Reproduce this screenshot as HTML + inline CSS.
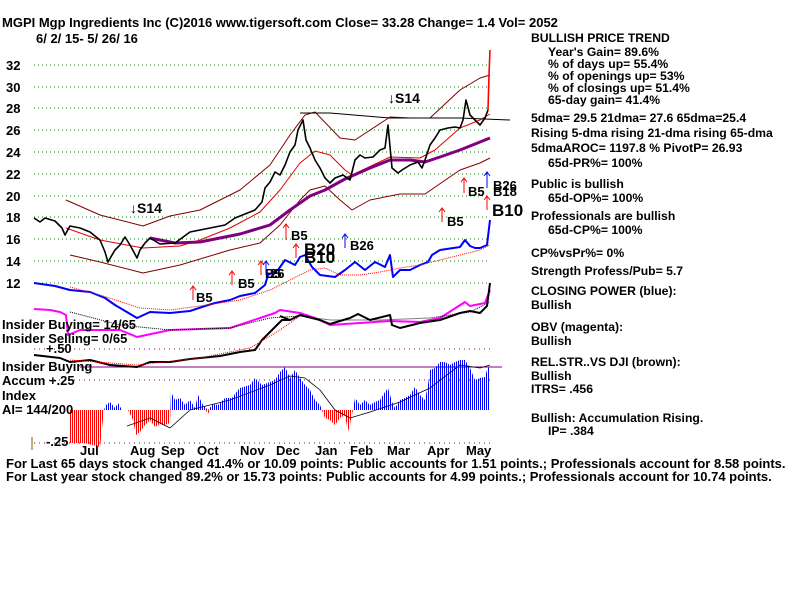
<!DOCTYPE html>
<html><head><meta charset="utf-8"><style>
body{margin:0;background:#fff;}
svg{display:block;font-family:"Liberation Sans",Arial,sans-serif;font-weight:bold;font-size:11.5px;}
</style></head><body>
<svg width="800" height="600" viewBox="0 0 800 600" xmlns="http://www.w3.org/2000/svg">
<defs>
<pattern id="pb" width="2" height="10" patternUnits="userSpaceOnUse"><rect x="0" y="0" width="1" height="10" fill="#0000ff"/></pattern>
<pattern id="pr" width="2" height="10" patternUnits="userSpaceOnUse"><rect x="0" y="0" width="1" height="10" fill="#ff0000"/></pattern>
<clipPath id="cu"><rect x="0" y="0" width="800" height="410"/></clipPath>
<clipPath id="cd"><rect x="0" y="410" width="800" height="100"/></clipPath>
</defs>
<rect width="800" height="600" fill="#fff"/>
<text x="2" y="27" font-size="13">MGPI   Mgp Ingredients Inc   (C)2016 www.tigersoft.com     Close=   33.28   Change= 1.4  Vol= 2052</text>
<text x="36" y="43" font-size="13">6/ 2/ 15- 5/ 26/ 16</text>
<g stroke="#008000" stroke-dasharray="1,3" stroke-width="1">
<line x1="34" y1="65" x2="490" y2="65"/><line x1="34" y1="87" x2="490" y2="87"/><line x1="34" y1="108" x2="490" y2="108"/><line x1="34" y1="130" x2="490" y2="130"/><line x1="34" y1="152" x2="490" y2="152"/><line x1="34" y1="174" x2="490" y2="174"/><line x1="34" y1="196" x2="490" y2="196"/><line x1="34" y1="217" x2="490" y2="217"/><line x1="34" y1="239" x2="490" y2="239"/><line x1="34" y1="261" x2="490" y2="261"/><line x1="34" y1="283" x2="490" y2="283"/>
</g>
<g font-size="13"><text x="6" y="70">32</text><text x="6" y="92">30</text><text x="6" y="113">28</text><text x="6" y="135">26</text><text x="6" y="157">24</text><text x="6" y="179">22</text><text x="6" y="201">20</text><text x="6" y="222">18</text><text x="6" y="244">16</text><text x="6" y="266">14</text><text x="6" y="288">12</text></g>
<g stroke="#800080" stroke-dasharray="1,4"><line x1="34" y1="349" x2="490" y2="349"/><line x1="34" y1="380" x2="490" y2="380"/><line x1="34" y1="443" x2="490" y2="443"/></g>
<line x1="80" y1="367" x2="502" y2="367" stroke="#800080"/>
<g id="ai">
<polygon clip-path="url(#cu)" fill="url(#pb)" points="70,410 70,443 85,443 100,447 104,410 106,405 110,402 115,408 118,403 122,410 128,410 133,420 136,435 140,432 145,425 150,420 155,427 160,424 165,425 170,423 171,392 175,400 180,398 185,405 190,400 195,408 198,395 203,405 208,410 213,404 218,405 225,398 232,398 238,390 240,388 250,385 255,378 262,385 270,382 275,380 280,372 285,367 290,378 295,370 300,378 305,385 310,390 315,400 320,405 325,418 330,420 335,425 340,418 345,415 348,432 352,415 355,398 360,405 365,400 370,405 375,402 380,400 385,392 388,388 392,402 395,408 400,400 405,398 410,395 415,387 420,395 425,400 428,385 430,370 435,368 440,362 445,362 450,365 455,362 460,360 465,360 470,368 475,380 480,378 485,377 487,370 490,365 490,410"/>
<polygon clip-path="url(#cd)" fill="url(#pr)" points="70,410 70,443 85,443 100,447 104,410 106,405 110,402 115,408 118,403 122,410 128,410 133,420 136,435 140,432 145,425 150,420 155,427 160,424 165,425 170,423 171,392 175,400 180,398 185,405 190,400 195,408 198,395 203,405 208,414 213,404 218,405 225,398 232,398 238,390 240,388 250,385 255,378 262,385 270,382 275,380 280,372 285,367 290,378 295,370 300,378 305,385 310,390 315,400 320,405 325,418 330,420 335,425 340,418 345,415 348,432 352,415 355,398 360,405 365,400 370,405 375,402 380,400 385,392 388,388 392,402 395,408 400,400 405,398 410,395 415,387 420,395 425,400 428,385 430,370 435,368 440,362 445,362 450,365 455,362 460,360 465,360 470,368 475,380 480,378 485,377 487,370 490,365 490,410"/>
</g>
<g fill="none" stroke-linejoin="round">
<polyline stroke="#800000" points="66,200 100,215 143,226 170,216 200,210 240,190 270,165 290,135 305,115 315,112 340,138 355,140 390,117 410,118 430,118 460,90 480,78 490,75"/>
<polyline stroke="#800000" points="70,255 100,262 143,273 180,265 230,250 260,243 280,225 300,200 310,190 325,186 340,200 352,210 370,200 400,194 425,194 460,170 480,163 490,158"/>
<polyline stroke="#e00000" points="66,228 100,240 143,248 180,246 200,240 230,228 260,212 280,190 300,163 315,151 330,155 345,170 352,175 390,157 420,158 435,150 460,128 480,120 490,114"/>
<polyline stroke="#800080" stroke-width="3" points="150,238 175,243 200,242 240,234 270,225 290,210 310,196 325,190 345,179 370,168 390,160 410,160 425,162 440,157 460,150 480,142 490,138"/>
<polyline stroke="#000" points="300,113 330,113 390,118 460,118 510,120"/>
<polyline stroke="#000" stroke-width="1.6" points="34,218 40,222 45,218 55,221 62,228 65,235 70,226 80,228 90,232 100,240 105,252 108,262 112,255 115,250 120,245 125,237 130,245 137,258 140,250 145,243 150,238 160,244 175,243 190,232 200,230 210,228 225,225 235,218 245,214 255,210 262,202 265,188 270,182 275,172 280,175 285,165 290,152 295,145 298,130 303,120 306,140 310,148 315,160 320,168 325,178 330,183 335,178 343,175 350,180 355,160 360,155 365,158 373,157 380,150 385,148 388,125 392,168 398,173 402,170 410,165 418,162 422,168 425,160 430,145 435,138 440,130 448,128 455,127 460,128 463,120 466,100 470,115 475,120 480,125 485,118 488,110"/>
<polyline stroke="#ff0000" stroke-width="1.6" points="488,110 489,75 490,50"/>
<polyline stroke="#0000ff" stroke-width="2" points="34,283 55,286 70,290 90,292 105,298 115,305 137,318 150,312 170,313 190,311 205,306 215,303 230,300 240,296 255,293 265,285 268,275 278,270 285,260 295,265 300,257 305,255 312,267 320,275 335,277 345,270 355,262 365,270 375,262 385,267 390,255 393,277 400,270 410,270 420,265 428,262 432,255 440,250 460,247 465,240 470,246 475,248 480,248 487,245 490,220"/>
<polyline stroke="#ff0000" stroke-dasharray="1,1" points="70,287 100,295 140,308 170,310 200,306 240,300 270,290 290,280 310,270 325,268 340,275 360,275 380,272 400,268 420,265 440,260 460,255 480,250 490,245"/>
<polyline stroke="#ff00ff" stroke-width="2" points="34,309 50,310 60,312 66,315 68,335 80,330 120,330 137,337 170,330 230,328 260,318 275,313 280,310 300,313 315,318 330,325 360,323 390,321 420,322 440,318 465,302 470,306 485,303 490,290"/>
<polyline stroke="#000" stroke-width="2" points="280,316 290,320 300,315 320,320 330,324 350,318 358,314 370,320 390,315 392,325 400,328 420,323 440,320 460,313 470,311 480,313 487,306 490,283"/>
<polyline stroke="#000" stroke-dasharray="1,1" points="70,312 120,325 170,330 230,328 270,318 300,316 330,320 380,320 430,318 470,312 490,302"/>
<polyline stroke="#000" stroke-width="2" points="34,355 60,358 70,362 90,360 110,365 137,367 150,362 170,362 190,359 220,356 240,352 255,350 262,340 270,332 282,320 290,320"/>
<polyline stroke="#ff0000" stroke-dasharray="1,1" points="70,360 137,365 200,358 250,348 280,330 300,316"/>
<polyline stroke="#000" stroke-width="0.8" points="127,426 150,418 170,428 190,410 230,400 270,385 290,376 305,378 320,390 335,410 350,418 370,412 400,402 430,388 460,365 480,368 490,365"/>
</g>
<g fill="#000" font-size="14">
<text x="130" y="213">↓S14</text><text x="388" y="103">↓S14</text>
</g>
<g fill="#000" font-size="13">
<text x="196" y="302">B5</text><text x="238" y="288">B5</text><text x="265" y="278">B5</text><text x="270" y="278">26</text><text x="291" y="240">B5</text><text x="304" y="255" font-size="17">B20</text><text x="304" y="263" font-size="17">B10</text><text x="350" y="250">B26</text><text x="447" y="226">B5</text><text x="468" y="196">B5</text><text x="493" y="190">B26</text><text x="493" y="196">B18</text><text x="492" y="216" font-size="17">B10</text>
</g>
<g stroke="#ff0000" fill="none"><path d="M193,300v-14m-3,4l3,-4l3,4M232,285v-14m-3,4l3,-4l3,4M261,275v-14m-3,4l3,-4l3,4M286,240v-16m-3,4l3,-4l3,4M296,258v-14m-3,4l3,-4l3,4M442,222v-14m-3,4l3,-4l3,4M464,193v-15m-3,4l3,-4l3,4M487,210v-14m-3,4l3,-4l3,4"/></g>
<g stroke="#0000ff" fill="none"><path d="M266,275v-14m-3,4l3,-4l3,4M345,248v-14m-3,4l3,-4l3,4M487,188v-16m-3,4l3,-4l3,4"/></g>
<g font-size="13">
<text x="2" y="329">Insider Buying= 14/65</text><text x="2" y="343">Insider Selling= 0/65</text><text x="46" y="353">+.50</text>
<text x="2" y="371">Insider Buying</text><text x="2" y="385">Accum  +.25</text><text x="2" y="400">Index</text><text x="2" y="414">AI= 144/200</text><text x="46" y="446">-.25</text>
<text x="80" y="455">Jul</text><text x="130" y="455">Aug</text><text x="161" y="455">Sep</text><text x="197" y="455">Oct</text><text x="240" y="455">Nov</text><text x="276" y="455">Dec</text><text x="315" y="455">Jan</text><text x="350" y="455">Feb</text><text x="387" y="455">Mar</text><text x="427" y="455">Apr</text><text x="466" y="455">May</text>
<text x="6" y="468">For Last 65 days stock changed  41.4% or  10.09 points:  Public accounts for  1.51 points.;  Professionals account for  8.58 points.</text>
<text x="6" y="481">For Last year stock changed  89.2% or  15.73 points:  Public accounts for  4.99 points.;  Professionals account for  10.74 points.</text>
</g>
<line x1="32" y1="437" x2="32" y2="450" stroke="#806000"/>
<g font-size="12.2">
<text x="531" y="42">BULLISH PRICE TREND</text>
<text x="548" y="56">Year's Gain= 89.6%</text><text x="548" y="68">% of days up= 55.4%</text><text x="548" y="80">% of openings up= 53%</text><text x="548" y="92">% of closings up= 51.4%</text><text x="548" y="104">65-day gain= 41.4%</text>
<text x="531" y="122">5dma= 29.5 21dma= 27.6 65dma=25.4</text>
<text x="531" y="137">Rising 5-dma rising 21-dma rising 65-dma</text>
<text x="531" y="152">5dmaAROC= 1197.8 %  PivotP= 26.93</text>
<text x="548" y="167">65d-PR%= 100%</text>
<text x="531" y="188">Public is bullish</text><text x="548" y="202">65d-OP%= 100%</text>
<text x="531" y="220">Professionals are bullish</text><text x="548" y="234">65d-CP%= 100%</text>
<text x="531" y="257">CP%vsPr%=  0%</text>
<text x="531" y="275">Strength Profess/Pub= 5.7</text>
<text x="531" y="295">CLOSING POWER (blue):</text><text x="531" y="309">Bullish</text>
<text x="531" y="331">OBV (magenta):</text><text x="531" y="345">Bullish</text>
<text x="531" y="366">REL.STR..VS DJI (brown):</text><text x="531" y="380">Bullish</text><text x="531" y="393">ITRS= .456</text>
<text x="531" y="422">Bullish: Accumulation Rising.</text><text x="548" y="435">IP=  .384</text>
</g>
</svg>
</body></html>
